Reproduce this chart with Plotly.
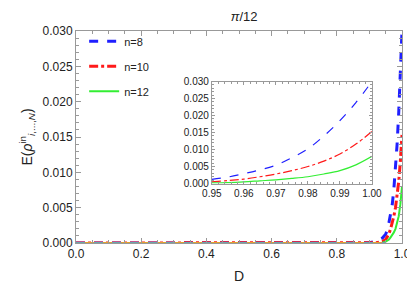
import plotly.graph_objects as go

D = [0.0, 0.5, 0.85, 0.90, 0.92, 0.94, 0.95, 0.955, 0.96, 0.965, 0.97, 0.975, 0.98, 0.985, 0.99, 0.995, 1.0]
E_n8 = [0, 0, 0, 0.00005, 0.00025, 0.0007, 0.00125, 0.0019, 0.0029, 0.0040, 0.0054, 0.0076, 0.0102, 0.0140, 0.0185, 0.0238, 0.0300]
E_n10 = [0, 0, 0, 0.00001, 0.00005, 0.0002, 0.0005, 0.0009, 0.0013, 0.0020, 0.0028, 0.0038, 0.0050, 0.0066, 0.0087, 0.0116, 0.0153]
E_n12 = [0, 0, 0, 0, 0.00001, 0.00005, 0.0002, 0.0003, 0.0005, 0.0008, 0.0011, 0.0015, 0.0020, 0.0028, 0.0038, 0.0055, 0.0080]
D_zero = [0.0, 0.95]
E_zero = [0, 0]

series = [
    ("n=8", E_n8, "#1f1fff", "dash"),
    ("n=10", E_n10, "#ff1a1a", "dashdot"),
    ("n=12", E_n12, "#33ee33", "solid"),
]

fig = go.Figure()
for name, ys, col, dash in series:
    fig.add_trace(go.Scatter(x=D, y=ys, mode="lines", name=name, legendgroup=name,
                             line=dict(color=col, width=3 if dash != "solid" else 2, dash=dash),
                             xaxis="x", yaxis="y"))
fig.add_trace(go.Scatter(x=D_zero, y=E_zero, mode="lines", showlegend=False,
                         line=dict(color="#e0a030", width=2), xaxis="x", yaxis="y"))
fig.add_trace(go.Scatter(x=D_zero, y=E_zero, mode="lines", showlegend=False,
                         line=dict(color="#40a8d8", width=1.5, dash="dash"), xaxis="x", yaxis="y"))

# inset
Di = [d for d in D if d >= 0.95]
for name, ys, col, dash in series:
    yi = ys[len(D) - len(Di):]
    fig.add_trace(go.Scatter(x=Di, y=yi, mode="lines", showlegend=False,
                             line=dict(color=col, width=1.2, dash=dash, shape="spline"),
                             xaxis="x2", yaxis="y2"))

axcol = "#999999"
fig.update_layout(
    width=415, height=284,
    margin=dict(l=68, r=11, t=23, b=47),
    paper_bgcolor="white", plot_bgcolor="white",
    font=dict(family="Liberation Sans, Arial", size=12, color="#222"),
    title=dict(text="<i>π</i>/12", x=0.569, xanchor="center", y=0.985, yanchor="top",
               font=dict(size=13)),
    showlegend=True,
    legend=dict(x=0.025, y=1.02, xanchor="left", yanchor="top", bgcolor="rgba(0,0,0,0)",
                font=dict(size=11), tracegroupgap=6),
    xaxis=dict(range=[0, 1.0], dtick=0.2, tickformat=".1f", showgrid=False, zeroline=False,
               showline=True, linecolor=axcol, mirror="ticks", ticks="inside", ticklen=5,
               tickcolor=axcol, minor=dict(ticks="inside", ticklen=3, dtick=0.05, tickcolor=axcol),
               title=dict(text="D", standoff=10), domain=[0, 1]),
    yaxis=dict(range=[0, 0.030], dtick=0.005, tickformat=".3f", showgrid=False, zeroline=False,
               showline=True, linecolor=axcol, mirror="ticks", ticks="inside", ticklen=5,
               tickcolor=axcol, minor=dict(ticks="inside", ticklen=3, dtick=0.001, tickcolor=axcol),
               title=dict(text="E(<i>ρ</i><sup>in</sup><sub><i>i</i>,...,<i>N</i></sub>)", standoff=6)),
    xaxis2=dict(range=[0.95, 1.0], dtick=0.01, tickformat=".2f", showgrid=False, zeroline=False,
                showline=True, linecolor=axcol, mirror="ticks", ticks="inside", ticklen=3,
                tickcolor=axcol, minor=dict(ticks="inside", ticklen=2, dtick=0.002, tickcolor=axcol),
                domain=[0.4167, 0.9077], anchor="y2", tickfont=dict(size=10)),
    yaxis2=dict(range=[0, 0.030], dtick=0.005, tickformat=".3f", showgrid=False, zeroline=False,
                showline=True, linecolor=axcol, mirror="ticks", ticks="inside", ticklen=3,
                tickcolor=axcol, minor=dict(ticks="inside", ticklen=2, dtick=0.001, tickcolor=axcol),
                domain=[0.2804, 0.7617], anchor="x2", tickfont=dict(size=10)),
)
fig.write_html("out.html")
